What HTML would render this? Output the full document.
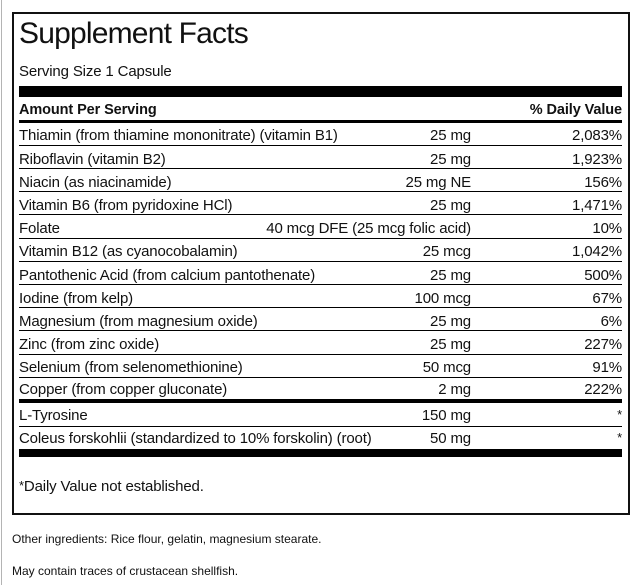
<!DOCTYPE html>
<html>
<head>
<meta charset="utf-8">
<style>
html,body{margin:0;padding:0;background:#fff;}
body{width:636px;height:585px;position:relative;overflow:hidden;font-family:"Liberation Sans",Arial,sans-serif;color:#111;}
.a{position:absolute;white-space:nowrap;line-height:1;}
.gray{position:absolute;left:1px;top:0;width:1px;height:585px;background:#b4b4b4;}
.box{position:absolute;left:12px;top:12px;width:618px;height:503px;border:2px solid #111;box-sizing:border-box;}
.bar{position:absolute;left:19px;width:603px;background:#000;}
.t{font-size:15px;letter-spacing:-0.15px;}
.l{left:19px;}
.m{right:165px;text-align:right;}
.p{right:14px;text-align:right;}
.ast{font-size:13px;position:relative;top:-1px;}
</style>
</head>
<body>
<div class="gray"></div>
<div class="box"></div>

<div class="a" style="left:19px;top:18.6px;font-size:30px;letter-spacing:-0.8px;">Supplement Facts</div>
<div class="a t" style="left:19px;top:63.5px;">Serving Size 1 Capsule</div>

<div class="bar" style="top:86px;height:11px;"></div>
<div class="a" style="left:19px;top:102.8px;font-size:14.5px;font-weight:bold;letter-spacing:-0.1px;">Amount Per Serving</div>
<div class="a p" style="top:102.8px;font-size:14.5px;font-weight:bold;letter-spacing:-0.1px;">% Daily Value</div>
<div class="bar" style="top:120px;height:3px;"></div>

<div class="a t l" style="top:128.3px;">Thiamin (from thiamine mononitrate) (vitamin B1)</div>
<div class="a t m" style="top:128.3px;">25 mg</div>
<div class="a t p" style="top:128.3px;">2,083%</div>
<div class="bar" style="top:145px;height:1px;"></div>

<div class="a t l" style="top:151.5px;">Riboflavin (vitamin B2)</div>
<div class="a t m" style="top:151.5px;">25 mg</div>
<div class="a t p" style="top:151.5px;">1,923%</div>
<div class="bar" style="top:168px;height:1px;"></div>

<div class="a t l" style="top:174.7px;">Niacin (as niacinamide)</div>
<div class="a t m" style="top:174.7px;">25 mg NE</div>
<div class="a t p" style="top:174.7px;">156%</div>
<div class="bar" style="top:191px;height:1px;"></div>

<div class="a t l" style="top:197.9px;">Vitamin B6 (from pyridoxine HCl)</div>
<div class="a t m" style="top:197.9px;">25 mg</div>
<div class="a t p" style="top:197.9px;">1,471%</div>
<div class="bar" style="top:214px;height:1px;"></div>

<div class="a t l" style="top:221.1px;">Folate</div>
<div class="a t m" style="top:221.1px;">40 mcg DFE (25 mcg folic acid)</div>
<div class="a t p" style="top:221.1px;">10%</div>
<div class="bar" style="top:238px;height:1px;"></div>

<div class="a t l" style="top:244.3px;">Vitamin B12 (as cyanocobalamin)</div>
<div class="a t m" style="top:244.3px;">25 mcg</div>
<div class="a t p" style="top:244.3px;">1,042%</div>
<div class="bar" style="top:261px;height:1px;"></div>

<div class="a t l" style="top:267.5px;">Pantothenic Acid (from calcium pantothenate)</div>
<div class="a t m" style="top:267.5px;">25 mg</div>
<div class="a t p" style="top:267.5px;">500%</div>
<div class="bar" style="top:284px;height:1px;"></div>

<div class="a t l" style="top:290.7px;">Iodine (from kelp)</div>
<div class="a t m" style="top:290.7px;">100 mcg</div>
<div class="a t p" style="top:290.7px;">67%</div>
<div class="bar" style="top:307px;height:1px;"></div>

<div class="a t l" style="top:313.9px;">Magnesium (from magnesium oxide)</div>
<div class="a t m" style="top:313.9px;">25 mg</div>
<div class="a t p" style="top:313.9px;">6%</div>
<div class="bar" style="top:330px;height:1px;"></div>

<div class="a t l" style="top:337.1px;">Zinc (from zinc oxide)</div>
<div class="a t m" style="top:337.1px;">25 mg</div>
<div class="a t p" style="top:337.1px;">227%</div>
<div class="bar" style="top:354px;height:1px;"></div>

<div class="a t l" style="top:360.3px;">Selenium (from selenomethionine)</div>
<div class="a t m" style="top:360.3px;">50 mcg</div>
<div class="a t p" style="top:360.3px;">91%</div>
<div class="bar" style="top:377px;height:1px;"></div>

<div class="a t l" style="top:381.5px;">Copper (from copper gluconate)</div>
<div class="a t m" style="top:381.5px;">2 mg</div>
<div class="a t p" style="top:381.5px;">222%</div>
<div class="bar" style="top:399px;height:4px;"></div>

<div class="a t l" style="top:408.3px;">L-Tyrosine</div>
<div class="a t m" style="top:408.3px;">150 mg</div>
<div class="a t p" style="top:408.3px;"><span class="ast">*</span></div>
<div class="bar" style="top:426px;height:1px;"></div>

<div class="a t l" style="top:431.3px;">Coleus forskohlii (standardized to 10% forskolin) (root)</div>
<div class="a t m" style="top:431.3px;">50 mg</div>
<div class="a t p" style="top:431.3px;"><span class="ast">*</span></div>
<div class="bar" style="top:449px;height:8px;"></div>

<div class="a t" style="left:19px;top:479.3px;"><span class="ast">*</span>Daily Value not established.</div>

<div class="a" style="left:12px;top:532.8px;font-size:12px;">Other ingredients: Rice flour, gelatin, magnesium stearate.</div>
<div class="a" style="left:12px;top:564.8px;font-size:12px;">May contain traces of crustacean shellfish.</div>
</body>
</html>
